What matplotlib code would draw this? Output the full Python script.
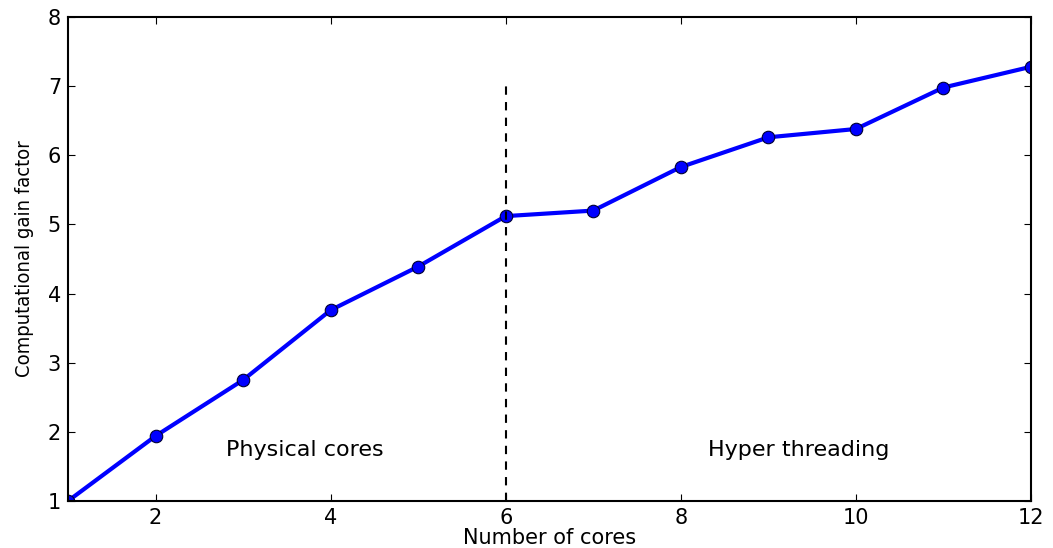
import matplotlib
matplotlib.use("Agg")
import matplotlib.pyplot as plt

# cores vs measured speed-up
cores = [1, 2, 3, 4, 5, 6, 7, 8, 9, 10, 11, 12]
gain = [1.0, 1.94, 2.75, 3.76, 4.39, 5.12, 5.20, 5.83, 6.26, 6.38, 6.98, 7.28]
split_core = 6
split_top = 7
region_labels = ["Physical cores", "Hyper threading"]
region_x = [3.7, 9.35]
region_y = 1.74

fig = plt.figure(figsize=(10.53, 5.48), dpi=100)
ax = fig.add_axes([0.0646, 0.0858, 0.9145, 0.8832])

ax.plot(cores, gain, color='#0000ff', lw=3, marker='o', ms=9,
        mfc='#0000ff', mec='#000033', mew=0.8)
ax.plot([split_core, split_core], [1, split_top], 'k--', lw=1.5, dashes=(4, 3.5))

for lbl, x in zip(region_labels, region_x):
    ax.text(x, region_y, lbl, ha='center', va='center', fontsize=16)

ax.set_xlim(1, 12)
ax.set_ylim(1, 8)
ax.set_xticks([2, 4, 6, 8, 10, 12])
ax.set_yticks(range(1, 9))
ax.tick_params(direction='in', length=5, labelsize=15, top=True, right=True, pad=5)
for s in ax.spines.values():
    s.set_linewidth(1.5)

ax.set_xlabel("Number of cores", fontsize=15, labelpad=0)
ax.set_ylabel("Computational gain factor", fontsize=14.5,
              family=['Liberation Sans Narrow', 'DejaVu Sans'], fontstretch='condensed',
              labelpad=10)

fig.savefig("out.png", dpi=100)
